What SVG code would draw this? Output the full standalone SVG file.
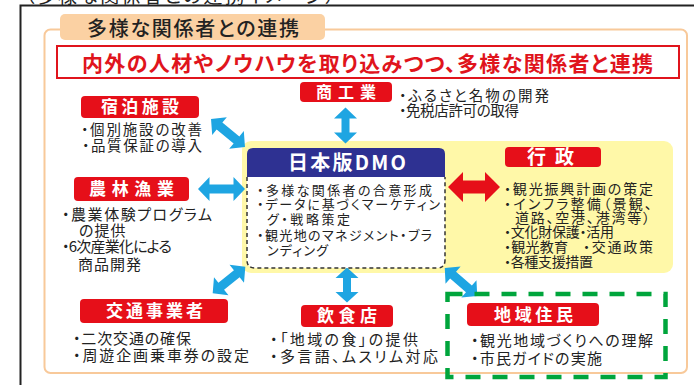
<svg xmlns="http://www.w3.org/2000/svg" width="694" height="385" viewBox="0 0 694 385">
<style>
text{font-family:"Noto Sans CJK JP","Noto Sans",sans-serif;fill:#222;font-feature-settings:"palt";}
.lbox{fill:#e60f19;}
.lab{fill:#fff;font-weight:bold;font-size:17px;font-feature-settings:normal;}
.arr{fill:#1ea5e2;}
.b145{font-size:14.5px;}
.b15{font-size:15px;}
.b14{font-size:14px;}
.b13{font-size:13px;}
</style>
<rect x="0" y="0" width="694" height="385" fill="#fff"/>
<text x="25" y="3" font-size="19" textLength="310">（多様な関係者との連携イメージ）</text>
<path d="M20.5,385 V5.5 H694" fill="none" stroke="#222" stroke-width="2"/>

<g id="frame">
<rect x="44.5" y="29.5" width="642.5" height="343.5" rx="6" fill="#fff" stroke="#f8c99a" stroke-width="2"/>
<rect x="60" y="14" width="265" height="26" rx="5" fill="#fbd1a3"/>
<text x="87" y="36" font-size="20" textLength="212" font-weight="500">多様な関係者との連携</text>
<rect x="57" y="46" width="622" height="32" fill="#fff" stroke="#e0141c" stroke-width="2"/>
<text x="82" y="70.5" font-size="21" font-weight="bold" style="fill:#e0141c" textLength="571">内外の人材やノウハウを取り込みつつ、多様な関係者と連携</text>
</g>

<rect x="242" y="141" width="431" height="132" rx="9" fill="#fff8a8"/>

<g id="connectors">
<path class="arr" transform="translate(228,133) rotate(39.5)" d="M-22,0 L-11,-11.5 L-11,-4.5 L11,-4.5 L11,-11.5 L22,0 L11,11.5 L11,4.5 L-11,4.5 L-11,11.5 Z"/>
<path class="arr" transform="translate(345.5,125.5) rotate(90)" d="M-18,0 L-7,-11.5 L-7,-4 L7,-4 L7,-11.5 L18,0 L7,11.5 L7,4 L-7,4 L-7,11.5 Z"/>
<path class="arr" transform="translate(221.5,189)" d="M-23.5,0 L-12,-12 L-12,-4.5 L12,-4.5 L12,-12 L23.5,0 L12,12 L12,4.5 L-12,4.5 L-12,12 Z"/>
<path class="arr" transform="translate(229,280) rotate(-39)" d="M-21,0 L-10,-11.5 L-10,-4.5 L10,-4.5 L10,-11.5 L21,0 L10,11.5 L10,4.5 L-10,4.5 L-10,11.5 Z"/>
<path class="arr" transform="translate(347,285) rotate(90)" d="M-17.5,0 L-7,-11.5 L-7,-4 L7,-4 L7,-11.5 L17.5,0 L7,11.5 L7,4 L-7,4 L-7,11.5 Z"/>
<path class="arr" transform="translate(461,282) rotate(41)" d="M-21.5,0 L-10.5,-11.5 L-10.5,-4.5 L10.5,-4.5 L10.5,-11.5 L21.5,0 L10.5,11.5 L10.5,4.5 L-10.5,4.5 L-10.5,11.5 Z"/>
<path fill="#e60f19" transform="translate(474,187)" d="M-26,0 L-11,-15 L-11,-6.5 L11,-6.5 L11,-15 L26,0 L11,15 L11,6.5 L-11,6.5 L-11,15 Z"/>
</g>

<g id="dmo">
<path d="M247,177 V260 Q247,268 255,268 H437 Q445,268 445,260 V177" fill="#fff" stroke="#333" stroke-width="1.5" stroke-dasharray="4 3"/>
<path d="M247,177 V154 Q247,148 253,148 H439 Q445,148 445,154 V177 Z" fill="#2e3192"/>
<text x="288" y="169.5" font-size="20" font-weight="bold" style="fill:#fff" textLength="118">日本版DMO</text>
<text class="b13" x="257" y="194.5" textLength="175">・多様な関係者の合意形成</text>
<text class="b13" x="257" y="209" textLength="183">・データに基づくマーケティン</text>
<text class="b13" x="267" y="223.5" textLength="83">グ・戦略策定</text>
<text class="b13" x="257" y="239.5" textLength="175">・観光地のマネジメント・ブラ</text>
<text class="b13" x="267" y="254.5" textLength="61">ンディング</text>
</g>

<g id="shukuhaku">
<rect class="lbox" x="81" y="96" width="118" height="22" rx="4"/>
<text class="lab" x="101" y="113" textLength="78">宿泊施設</text>
<text class="b145" x="81" y="134.5" textLength="121">・個別施設の改善</text>
<text class="b145" x="82" y="150.5" textLength="120">・品質保証の導入</text>
</g>

<g id="shokogyo">
<rect class="lbox" x="300" y="82" width="92" height="20" rx="4"/>
<text class="lab" x="316" y="98" style="font-size:16px" textLength="60">商工業</text>
<text class="b145" x="399" y="100.5" textLength="150">・ふるさと名物の開発</text>
<text class="b145" x="399" y="115.5" textLength="120">・免税店許可の取得</text>
</g>

<g id="norin">
<rect class="lbox" x="74" y="177" width="115" height="24" rx="4"/>
<text class="lab" x="89" y="195" textLength="85">農林漁業</text>
<text class="b15" x="62" y="220" textLength="150">・農業体験プログラム</text>
<text class="b15" x="79" y="236" letter-spacing="1">の提供</text>
<text class="b15" x="62" y="252" textLength="110">・6次産業化による</text>
<text class="b15" x="78" y="270" letter-spacing="1">商品開発</text>
</g>

<g id="gyosei">
<rect class="lbox" x="505" y="147" width="96" height="20" rx="4"/>
<text class="lab" x="527" y="164" style="font-size:19px" textLength="47">行政</text>
<text class="b14" x="504" y="194" textLength="149">・観光振興計画の策定</text>
<text class="b14" x="504" y="209" textLength="148">・インフラ整備（景観、</text>
<text class="b14" x="515" y="223" textLength="135">道路、空港、港湾等）</text>
<text class="b14" x="504" y="237" textLength="110">・文化財保護・活用</text>
<text class="b14" x="504" y="252" textLength="64">・観光教育</text>
<text class="b14" x="583" y="252" textLength="70">・交通政策</text>
<text class="b14" x="504" y="267" textLength="89">・各種支援措置</text>
</g>

<g id="kotsu">
<rect class="lbox" x="80" y="299" width="148" height="24" rx="4"/>
<text class="lab" x="106" y="317" textLength="97">交通事業者</text>
<text class="b15" x="73" y="343.5" textLength="118">・二次交通の確保</text>
<text class="b15" x="73" y="360.5" textLength="176">・周遊企画乗車券の設定</text>
</g>

<g id="inshoku">
<rect class="lbox" x="301" y="305" width="92" height="22" rx="4"/>
<text class="lab" x="317" y="322" textLength="60">飲食店</text>
<text class="b15" x="270" y="345" textLength="148">・「地域の食」の提供</text>
<text class="b15" x="270" y="362" textLength="168">・多言語、ムスリム対応</text>
</g>

<g id="jumin">
<rect class="lbox" x="467" y="303" width="132" height="23" rx="4"/>
<text class="lab" x="494" y="320.5" textLength="79">地域住民</text>
<text class="b15" x="471" y="346" textLength="182">・観光地域づくりへの理解</text>
<text class="b15" x="471" y="364" textLength="131">・市民ガイドの実施</text>
<rect x="447.5" y="294" width="218" height="83" fill="none" stroke="#00a53c" stroke-width="4.5" stroke-dasharray="15 12"/>
</g>
</svg>
